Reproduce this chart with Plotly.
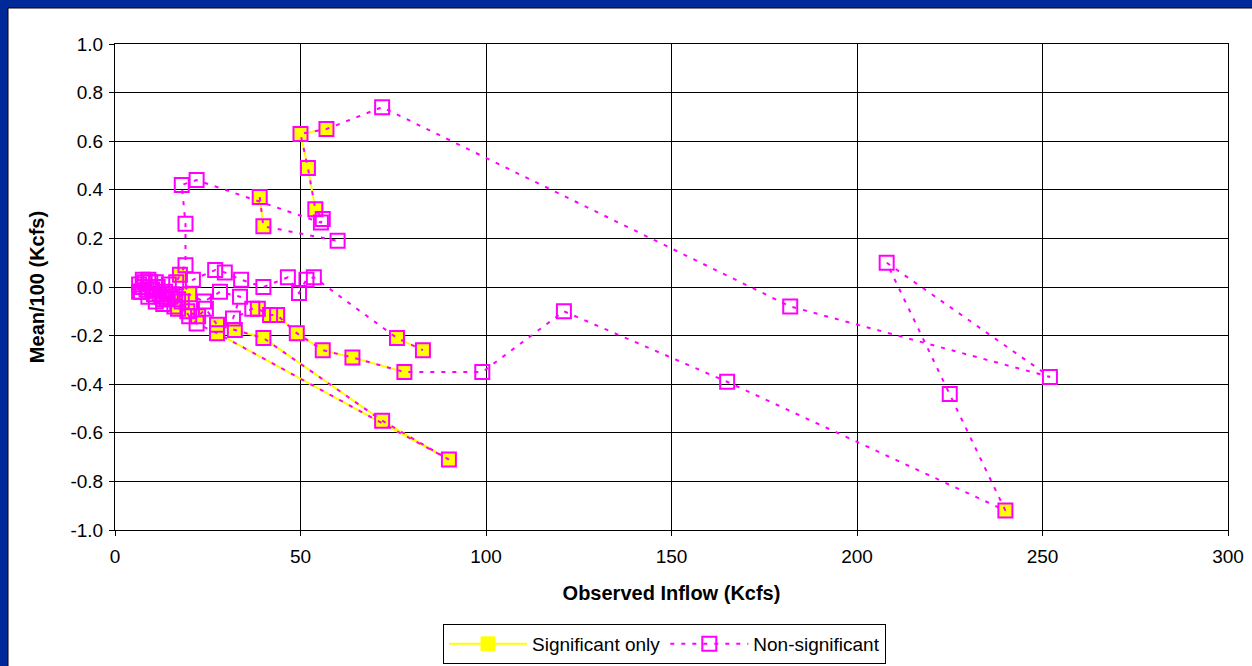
import plotly.graph_objects as go

# Observed inflow (Kcfs), Mean/100 (Kcfs) and significance flag, in series order.
# None marks a break between sequences.
obs_inflow = [
    6.5, 7.5, 8.5, 7.0, 9.5, 10.5, 9.0, 11.5, 12.5, 11.0, 13.5, 14.5, 13.0, 15.5, 16.5, 17.5,
    19.0, 19.0, 18.0, 22.0, 55.5, 56.0, 54.0, 52.0, 50.0, 57.0, 72.0,
    182.0, 252.0, 208.0, 225.0, 240.0, 165.0, 121.0, 99.0,
    78.0, 64.0, 56.0, 49.0, 43.7, 41.8, 38.5, 37.0, 31.8, 33.7, 28.3, 24.0, 20.0, 18.0, 16.0,
    14.0, 12.0, 10.0, 8.0, 6.5, 7.5, 9.0, 11.0, 13.0, 15.0, 17.0, 19.5, 22.4, 24.5,
    27.5, 32.3, 40.0, 72.0, 90.0, 27.5, 22.0, 20.0, 17.0, 21.0,
    27.0, 29.6, 34.0, 40.0, 46.6, 49.6, 51.6, 53.6, 76.0, 83.0,
    None,
    39.0, 40.0, 60.0,
]
mean_100 = [
    0.01, 0.03, -0.01, -0.02, 0.02, -0.03, 0.03, 0.00, -0.04, 0.02, -0.02, 0.01, -0.05, -0.03, 0.02, 0.05,
    0.09, 0.26, 0.42, 0.44, 0.265, 0.28, 0.32, 0.49, 0.63, 0.65, 0.74,
    -0.08, -0.37, 0.10, -0.44, -0.92, -0.39, -0.10, -0.35,
    -0.35, -0.29, -0.26, -0.19, -0.115, -0.115, -0.09, -0.09, -0.13, -0.04, -0.02, -0.06, -0.03, -0.06, -0.08,
    -0.05, -0.03, -0.01, 0.02, -0.02, 0.00, -0.04, -0.06, -0.07, -0.04, -0.09, -0.10, -0.12, -0.09,
    -0.155, -0.177, -0.21, -0.55, -0.71, -0.19, -0.15, -0.12, -0.05, 0.03,
    0.07, 0.06, 0.03, 0.00, 0.04, -0.025, 0.03, 0.04, -0.21, -0.26,
    None,
    0.37, 0.25, 0.19,
]
significant = [
    0, 0, 0, 0, 0, 0, 0, 0, 0, 0, 0, 0, 0, 0, 0, 1,
    0, 0, 0, 0, 0, 0, 1, 1, 1, 1, 0,
    0, 0, 0, 0, 1, 0, 0, 0,
    1, 1, 1, 1, 1, 1, 1, 0, 0, 0, 0, 0, 1, 1, 0,
    1, 0, 0, 0, 0, 0, 0, 0, 0, 1, 1, 1, 1, 0,
    1, 1, 1, 1, 1, 1, 0, 0, 0, 0,
    0, 0, 0, 0, 0, 0, 0, 0, 1, 1,
    0,
    1, 1, 0,
]

x_ticks = [0, 50, 100, 150, 200, 250, 300]
y_ticks = [-1.0, -0.8, -0.6, -0.4, -0.2, 0.0, 0.2, 0.4, 0.6, 0.8, 1.0]

sig_x = [x if s else None for x, s in zip(obs_inflow, significant)]
sig_y = [y if s else None for y, s in zip(mean_100, significant)]

FONT = "Liberation Sans, Arial, sans-serif"
MAGENTA = "#FF00FF"
YELLOW = "#FFFF00"

fig = go.Figure()
fig.add_trace(go.Scatter(
    x=sig_x, y=sig_y, mode="lines+markers", name="Significant only",
    connectgaps=False,
    line=dict(color=YELLOW, width=2),
    marker=dict(symbol="square", size=14, color=YELLOW, line=dict(color=YELLOW, width=1)),
))
fig.add_trace(go.Scatter(
    x=obs_inflow, y=mean_100, mode="lines+markers", name="Non-significant",
    connectgaps=False,
    line=dict(color=MAGENTA, width=2, dash="4px,7px"),
    marker=dict(symbol="square-open", size=14, color=MAGENTA, line=dict(color=MAGENTA, width=2)),
))

W, H = 1252, 666
L, R, T, B = 115, 24, 44, 136
pw, ph = W - L - R, H - T - B


def px_x(p):
    return (p - L) / pw


def px_y(p):
    return (H - B - p) / ph


fig.update_layout(
    width=W, height=H,
    margin=dict(l=L, r=R, t=T, b=B, autoexpand=False),
    paper_bgcolor="#002898",
    plot_bgcolor="white",
    font=dict(family=FONT, size=19, color="black"),
    showlegend=True,
    legend=dict(
        orientation="h", x=px_x(443), y=px_y(624), xanchor="left", yanchor="top",
        bgcolor="white", bordercolor="black", borderwidth=1,
        font=dict(family=FONT, size=19, color="black"),
        itemwidth=78, tracegroupgap=0,
    ),
    shapes=[dict(
        type="rect", xref="paper", yref="paper", layer="below",
        x0=px_x(8), x1=px_x(1270), y0=px_y(690), y1=px_y(8),
        fillcolor="white", line=dict(color="black", width=1),
    )],
)
fig.update_xaxes(
    range=[0, 300], tickvals=x_ticks, ticktext=[str(v) for v in x_ticks],
    showgrid=True, gridcolor="black", gridwidth=1,
    showline=True, linecolor="black", linewidth=1, mirror=True,
    ticks="outside", ticklen=5, tickcolor="black", zeroline=False,
    tickfont=dict(family=FONT, size=19), ticklabelstandoff=4,
    title=dict(text="<b>Observed Inflow (Kcfs)</b>", font=dict(family=FONT, size=20), standoff=20),
)
fig.update_yaxes(
    range=[-1, 1], tickvals=y_ticks, ticktext=[f"{v:.1f}" for v in y_ticks],
    showgrid=True, gridcolor="black", gridwidth=1,
    showline=True, linecolor="black", linewidth=1, mirror=True,
    ticks="outside", ticklen=5, tickcolor="black", zeroline=False,
    tickfont=dict(family=FONT, size=19), ticklabelstandoff=2,
    title=dict(text="<b>Mean/100 (Kcfs)</b>", font=dict(family=FONT, size=20), standoff=20),
)

fig.write_html(
    "out.html",
    config={"displayModeBar": False},
    post_script="document.body.style.margin='0';",
)
